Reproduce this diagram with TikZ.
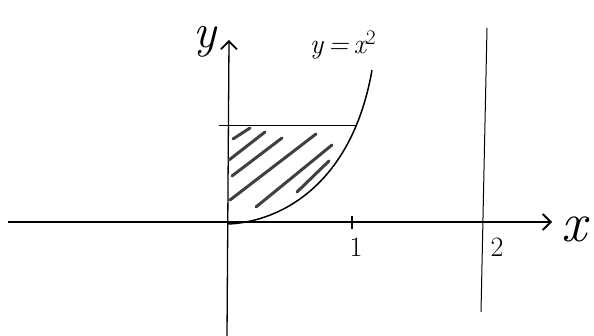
\documentclass[tikz,border=0pt]{standalone}
\usetikzlibrary{arrows.meta}
\begin{document}
\begin{tikzpicture}[x=1pt,y=-1pt,
  axis/.style={line width=1.3pt,-{Straight Barb[length=8pt,width=16pt,line width=1.8pt]}},
  thin line/.style={line width=1pt},
  curveline/.style={line width=1.5pt},
  hatch/.style={line width=3pt,color=black!75,line cap=round},
  lbl/.style={inner sep=0pt}]
\useasboundingbox[fill=white] (0,0) rectangle (594,336);
% axes
\coordinate (xs) at (8,222);
\coordinate (xe) at (552,222);
\coordinate (ys) at (227,336);
\coordinate (ye) at (229,40);
\draw[axis] (xs) -- (xe);
\draw[axis] (ys) -- (ye);
% vertical line x = 2
\coordinate (vt) at (487,28);
\coordinate (vb) at (481,312);
\draw[thin line] (vt) -- (vb);
% tick at 1
\coordinate (t1a) at (352,216);
\coordinate (t1b) at (352,229);
\draw[line width=2pt] (t1a) -- (t1b);
% top line y = 1
\coordinate (ha) at (219,126);
\coordinate (hb) at (357,126);
\draw[thin line] (ha) -- (hb);
% curve y = x^2
\coordinate (c0) at (228,224);
\coordinate (c3) at (372,70);
\draw[curveline] (c0) .. controls (280,222) and (352,185) .. (c3);
% hatching
\draw[hatch] (233,139) -- (250,128);
\draw[hatch] (229,160) -- (265,132);
\draw[hatch] (232,176) -- (282,138);
\draw[hatch] (230,200) -- (316,134);
\draw[hatch] (256,207) -- (332,145);
\draw[hatch] (297,192) -- (329,161);
% labels
\node[lbl,font=\fontsize{48}{50}\selectfont\itshape] (ly) at (205,42) {y};
\node[lbl,font=\fontsize{28}{30}\selectfont\itshape] (lf) at (343,45) {y\,=\,x$^2$};
\node[lbl,font=\fontsize{28}{30}\selectfont] (l1) at (356,247) {1};
\node[lbl,font=\fontsize{28}{30}\selectfont] (l2) at (497,247) {2};
\node[lbl,font=\fontsize{56}{58}\selectfont\itshape] (lx) at (574,229) {x};
\end{tikzpicture}
\end{document}
